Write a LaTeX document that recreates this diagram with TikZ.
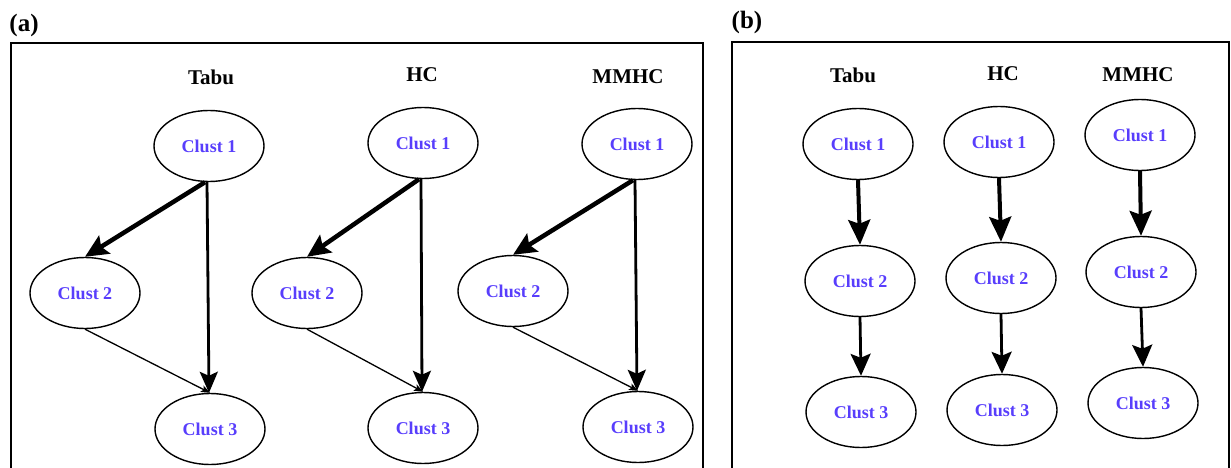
\documentclass[tikz,border=0pt]{standalone}
\usepackage{fontspec}
\setmainfont{Liberation Serif}
\usetikzlibrary{shapes.geometric,arrows.meta}
\definecolor{clustblue}{RGB}{88,62,252}
\tikzset{
  clust/.style={draw, ellipse, line width=1.4pt, minimum width=110pt, minimum height=71pt,
    inner sep=0pt, font=\fontsize{18}{20}\selectfont\bfseries, text=clustblue},
  algname/.style={font=\fontsize{21}{23}\selectfont\bfseries},
  panelname/.style={font=\fontsize{25}{27}\selectfont\bfseries},
  frame/.style={draw, line width=1.6pt},
  heavy/.style={line width=4.5pt, -{Stealth[length=23pt,width=21pt,inset=4pt]}},
  medium/.style={line width=2.8pt, -{Stealth[length=21pt,width=18pt,inset=4pt]}},
  light/.style={line width=1.3pt, -{Stealth[length=9pt,width=7pt,inset=2pt]}},
  bheavy/.style={line width=4pt, -{Stealth[length=25pt,width=22pt,inset=4pt]}},
  bmedium/.style={line width=2.8pt, -{Stealth[length=22pt,width=20pt,inset=4pt]}},
}
\begin{document}
\begin{tikzpicture}[x=1pt,y=-1pt]
\useasboundingbox (0,0) rectangle (1231,468);
\clip (0,0) rectangle (1231,468);

% panel frames
\draw[frame] (11,43) rectangle (703,490);
\draw[frame] (732,42) rectangle (1229,490);
\node[panelname] (pa) at (24,25) {(a)};
\node[panelname] (pb) at (747,22) {(b)};

% ---- panel (a): three-node networks ----
\node[algname] (ta) at (211,77) {Tabu};
\node[algname] (ha) at (422,75) {HC};
\node[algname] (ma) at (628,77) {MMHC};

\node[clust] (ta1) at (209,146) {Clust 1};
\node[clust] (ta2) at (85,293) {Clust 2};
\node[clust] (ta3) at (210,429) {Clust 3};

\node[clust] (ha1) at (423,143) {Clust 1};
\node[clust] (ha2) at (307,293) {Clust 2};
\node[clust] (ha3) at (423,428) {Clust 3};

\node[clust] (ma1) at (637,144) {Clust 1};
\node[clust] (ma2) at (513,291) {Clust 2};
\node[clust] (ma3) at (638,427) {Clust 3};

\foreach \p in {ta,ha,ma}{
  \draw[light] (\p2.south) -- (\p3.north);
  \draw[heavy] ([xshift=-4pt]\p1.south) -- (\p2.north);
  \draw[medium] ([xshift=-2pt]\p1.south) -- ([xshift=-1pt]\p3.north);
}

% ---- panel (b): chains ----
\node[algname] (tb) at (853,75) {Tabu};
\node[algname] (hb) at (1003,74) {HC};
\node[algname] (mb) at (1138,75) {MMHC};

\node[clust] (tb1) at (858,144) {Clust 1};
\node[clust] (tb2) at (860,281) {Clust 2};
\node[clust] (tb3) at (861,412) {Clust 3};

\node[clust] (hb1) at (999,142) {Clust 1};
\node[clust] (hb2) at (1001,278) {Clust 2};
\node[clust] (hb3) at (1002,410) {Clust 3};

\node[clust] (mb1) at (1140,135) {Clust 1};
\node[clust] (mb2) at (1141,272) {Clust 2};
\node[clust] (mb3) at (1143,403) {Clust 3};

\foreach \p in {tb,hb,mb}{
  \draw[bheavy] (\p1.south) -- (\p2.north);
  \draw[bmedium] (\p2.south) -- (\p3.north);
}
\end{tikzpicture}
\end{document}
